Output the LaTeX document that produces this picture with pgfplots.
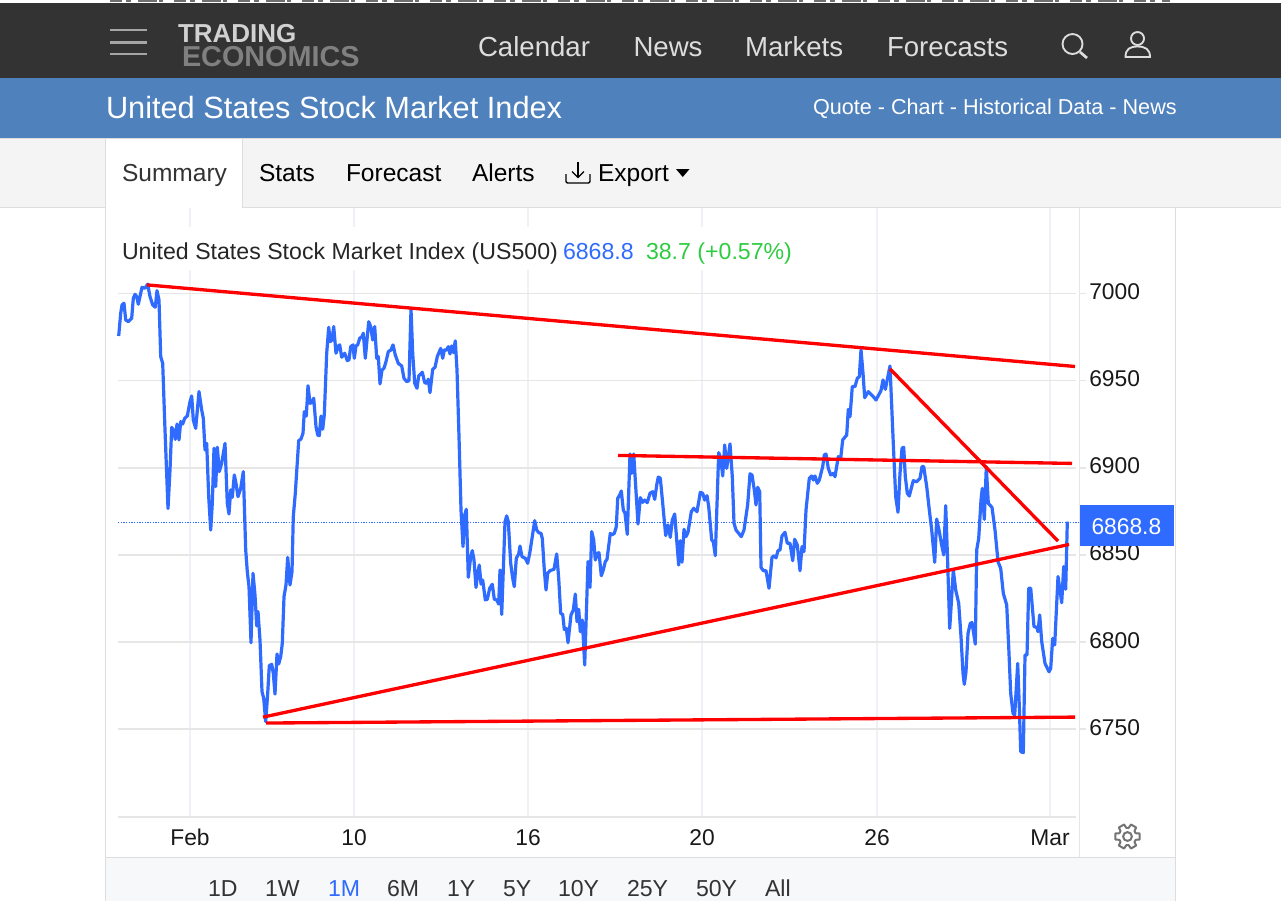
\documentclass[border=0pt]{standalone}
\usepackage{pgfplots}
\pgfplotsset{compat=1.18}
\usepackage{fontspec}
\setmainfont{Liberation Sans}
\definecolor{darkbar}{HTML}{333333}
\definecolor{bluebar}{HTML}{4F81BD}
\definecolor{strip}{HTML}{F4F4F4}
\definecolor{edge}{HTML}{DDDDDD}
\definecolor{lineblue}{HTML}{2F6BFF}
\definecolor{gain}{HTML}{2ECC40}
\definecolor{vgrid}{HTML}{EEF2F7}
\definecolor{hgrid}{HTML}{E6E6E6}
\definecolor{navtext}{HTML}{DDDDDD}
\definecolor{ranges}{HTML}{F7F8FA}
\newcommand{\fs}[1]{\fontsize{#1}{#1}\selectfont}
\tikzset{t/.style={inner sep=0pt,outer sep=0pt,anchor=base west}}
\begin{document}
\begin{tikzpicture}[x=0.75pt,y=-0.75pt]
\path[use as bounding box] (0,0) rectangle (1281,901);
\fill[white] (0,0) rectangle (1281,901);
% top bars
\fill[darkbar] (0,2.5) rectangle (1281,78);
\draw[darkbar!70,line width=0.9pt,dash pattern=on 9pt off 3pt on 4pt off 5pt on 14pt off 2pt on 3pt off 8pt] (110,1) -- (1170,1);
\fill[bluebar] (0,78) rectangle (1281,138);
\fill[strip] (0,138.5) rectangle (1281,207);
\draw[edge,line width=0.8pt] (0,138.5) -- (1281,138.5);
\draw[edge,line width=0.8pt] (0,207.5) -- (1281,207.5);
% panel
\fill[white] (106,208) rectangle (1175,857);
\fill[ranges] (106,858) rectangle (1175,901);
\draw[edge,line width=0.7pt] (106,857.5) -- (1175,857.5);
\draw[edge,line width=0.7pt] (105.5,139) -- (105.5,901);
\draw[edge,line width=0.7pt] (1175.5,208) -- (1175.5,901);
\draw[hgrid,line width=1.3pt] (1079.5,208) -- (1079.5,857);
\foreach \yy in {293.5,380.6,467.8,555,642.1,729.2}{\draw[hgrid,line width=1.1pt] (1080,\yy) -- (1086,\yy);}
% tab
\fill[white] (106,139) rectangle (242,209);
\draw[edge,line width=0.8pt] (105.5,139) -- (105.5,208);
\draw[edge,line width=0.8pt] (242.5,139) -- (242.5,208);
% hamburger
\foreach \yy in {30,42.5,54}{\draw[gray!70,line width=2pt] (110,\yy) -- (147,\yy);}
% logo
\node[t,text=black!18] at (178,42) {\fs{19.5pt}\textbf{TRADING}};
\node[t,text=black!50] at (182,66) {\fs{21.6pt}\textbf{ECONOMICS}};
% nav
\node[t,text=navtext] at (478,56) {\fs{20.7pt}Calendar};
\node[t,text=navtext] at (633.5,56) {\fs{20.7pt}News};
\node[t,text=navtext] at (745,56) {\fs{20.7pt}Markets};
\node[t,text=navtext] at (887,56) {\fs{20.7pt}Forecasts};
% search
\draw[navtext,line width=1.4pt] (1072.5,44) circle (10);
\draw[navtext,line width=2pt] (1080,52) -- (1087,58);
% user
\draw[navtext,line width=1.4pt] (1137.5,38.5) circle (6.5);
\draw[navtext,line width=1.4pt] (1125.5,57) .. controls (1125.5,49) and (1130,46.5) .. (1137.5,46.5) .. controls (1145,46.5) and (1150,49) .. (1150,57) -- cycle;
% blue bar text
\node[t,text=white] at (106,118) {\fs{23.05pt}United States Stock Market Index};
\node[t,text=white] at (813,114) {\fs{16.2pt}Quote - Chart - Historical Data - News};
% tabs
\node[t,text=black!80] at (122,181) {\fs{18.4pt}Summary};
\node[t,text=black] at (259,181) {\fs{18.4pt}Stats};
\node[t,text=black] at (346,181) {\fs{18.4pt}Forecast};
\node[t,text=black] at (472,181) {\fs{18.4pt}Alerts};
\node[t,text=black] at (598,181) {\fs{18.4pt}Export};
\draw[black,line width=1pt,rounded corners=1pt] (566,174) -- (566,183) -- (590,183) -- (590,174);
\draw[black,line width=1pt] (578,162) -- (578,177);
\draw[black,line width=1pt] (572,171.5) -- (578,177.5) -- (584,171.5);
\fill[black] (676,169) -- (689.5,169) -- (682.75,177) -- cycle;
% range buttons
\foreach \xx/\lab in {208/1D,265/1W,387/6M,447/1Y,503/5Y,558/10Y,627/25Y,696/50Y,765/All}{
  \node[t,text=black!80] at (\xx,896) {\fs{17.3pt}\lab};}
\node[t,text=lineblue] at (328,896) {\fs{17.3pt}1M};
\coordinate (orig) at (118,817);
\begin{axis}[
  at={(orig)},anchor=south west,
  scale only axis,
  width=718.5pt,height=456.75pt,
  xmin=118,xmax=1076,
  ymin=6699.7,ymax=7049,
  clip=false,
  axis line style={draw=none},
  xtick={190,354,528,702,877,1050},
  xticklabels={Feb,10,16,20,26,Mar},
  ytick={6750,6800,6850,6900,6950,7000},
  yticklabel pos=right,
  xtick pos=bottom,
  major tick length=0pt,
  grid=major,
  x grid style={vgrid,line width=1.2pt},
  y grid style={hgrid,line width=1.3pt},
  axis on top=false,
  /pgf/number format/.cd,set thousands separator={},assume math mode=true,
  /pgfplots/.cd,
  tick label style={font=\fs{17.1pt},text=black!90},
  xticklabel style={anchor=base,inner sep=0pt,yshift=-21.5pt},
  yticklabel style={anchor=west,inner sep=0pt,xshift=9.75pt,yshift=1.4pt},
]
\addplot[hgrid,line width=1.6pt,forget plot] coordinates {(118,6699.7) (1076,6699.7)};
\addplot[lineblue,line width=0.7pt,dash pattern=on 1pt off 1pt,forget plot] coordinates {(118,6868.8) (1080,6868.8)};
\addplot[lineblue,line width=2.4pt,line join=round,forget plot] coordinates {
(118.7,6975.6)(120.7,6988.6)(122,6993.4)(124,6994.4)(125.7,6984.8)(128.3,6983.8)(131.7,6985.8)(133.3,6997.2)(135,6999.5)(136.7,6998.2)
(138.3,6993.8)(142,7003.5)(145,7003)(147.7,7005.3)(150,6998.2)(152.7,6993.4)(155.3,6992.1)(157,7001.6)(159,6996.3)(160.7,6963.8)
(162.7,6959.9)(165,6921.7)(168,6876.6)(170,6898.7)(171.7,6923.2)(173.3,6921.7)(175.3,6916.3)(177,6925.1)(179,6916)(180.7,6926.5)
(182.7,6925.1)(184.7,6928.4)(187.3,6929.7)(190,6937.9)(191.7,6941.2)(193.3,6927.4)(195.7,6922.6)(199,6943.7)(201.7,6933.2)(203.3,6928.4)
(205,6910.2)(206.7,6914)(208.7,6883.4)(210.7,6864.3)(212.3,6879.6)(214,6911.2)(215.7,6889.2)(217.3,6911.8)(219.3,6897.8)(221.7,6902.6)
(225,6914)(227.3,6879.6)(229,6873.5)(230.7,6887.3)(232.3,6883.1)(234.3,6895.9)(236,6891.1)(238,6883.4)(240.7,6888.2)(243.3,6897.8)
(245.7,6852.9)(247.3,6840.4)(249,6831.8)(251,6799.7)(253,6839.5)(255,6827)(256.7,6809.3)(258,6817.5)(260,6801.2)(262,6771.6)
(263.7,6767.8)(265.7,6754.4)(267.7,6770.6)(269.3,6786.5)(271.7,6787.3)(273.3,6782.1)(275,6770.2)(277,6793.2)(278.7,6787.5)(280.7,6791.7)
(282.3,6799.3)(284,6826.1)(286,6832.8)(287.7,6848.6)(290,6832.8)(292,6840.4)(293.3,6872)(295.3,6885.4)(298.7,6915.6)(301,6916.5)
(303,6919.8)(304.3,6932.2)(306.3,6929.7)(308,6947.1)(310,6937)(312,6937.4)(313.7,6939.9)(316,6923.6)(317.7,6918.8)(319.3,6918.4)
(321,6929.7)(322.7,6922.1)(324.3,6930.3)(326.7,6965.7)(328.7,6980.6)(330.3,6972.4)(332,6973.3)(333.7,6981)(336,6965.7)(338.3,6969.9)
(339.7,6970.5)(341.7,6963.4)(344.7,6965.7)(347.3,6961.5)(349,6961.9)(350.7,6969.5)(353,6970.5)(354.3,6962.8)(356,6969.9)(357.7,6970.5)
(359.7,6974.3)(362,6975.2)(363.3,6977.2)(365.3,6962.8)(368.7,6983.8)(370.7,6981)(372.7,6973.3)(374.7,6981)(376.7,6962.8)(378.3,6963.8)
(380,6948.1)(382,6956.1)(384,6957.1)(386,6960.9)(388.3,6966.6)(391,6967.6)(393,6970.5)(395.3,6964.7)(398.3,6959.9)(401.7,6958.4)
(404,6951.3)(406.7,6949.4)(409,6950)(411,6990.9)(412.7,6965.7)(414.7,6948.5)(417,6945.6)(418.7,6952.7)(422.3,6954.8)(424.7,6948.8)
(426.7,6948.5)(428.3,6950.8)(430,6943.1)(432.7,6956.5)(435,6957.6)(437.3,6963.8)(440.7,6968.5)(442.7,6962.8)(444.3,6967.6)(446.7,6967.6)
(448.3,6969.5)(450,6965.3)(451.7,6969.9)(453.3,6966.1)(455.3,6972.8)(457,6956.1)(459,6917.9)(461,6875.8)(463,6854.8)(464.7,6872.9)
(466.3,6876.2)(468.3,6837.2)(470.7,6849)(472.3,6852.5)(474,6847.1)(476,6831.4)(478,6840.4)(479.3,6844.2)(481,6833.3)(482.7,6835.6)
(485.3,6824.2)(487.3,6824.6)(489.7,6830.9)(492.3,6833.2)(494.3,6824.6)(496.7,6824.2)(498.7,6821.9)(500,6841.4)(501.7,6815.9)(503.3,6841.4)
(505,6869.1)(506.7,6872.4)(508.3,6869.1)(510.7,6845.2)(512.7,6836.6)(514.3,6831.8)(516.3,6848.1)(518.7,6850.6)(520,6855.1)(522,6849)
(525.3,6848.1)(527.7,6845.2)(530,6851.9)(534.7,6869.7)(536.7,6864.3)(538.7,6862.8)(541,6862.4)(542.3,6859.5)(544.3,6841.4)(546,6829.9)
(547.7,6839.5)(550,6841)(554,6841.8)(556.7,6850.6)(558.7,6836.6)(560.7,6816.5)(562.7,6815.9)(564.3,6807.3)(566.3,6807.9)(568,6799.7)
(571,6815.6)(573.3,6818.4)(575.3,6827.6)(577,6811.7)(578.7,6818.8)(580.3,6806)(582.3,6812.7)(584.7,6786.9)(588,6846.2)(590,6831.4)
(591.7,6863.4)(593.7,6858.6)(595.3,6847.1)(597.3,6850.9)(599,6851.3)(601.3,6838.1)(603.3,6841.4)(605.3,6846.2)(607,6847.5)(610.3,6862.4)
(612,6861.5)(614.3,6862.4)(616.3,6866.2)(617.7,6882.5)(619.7,6884.4)(621.3,6886.7)(623.3,6875.8)(625,6873.9)(627.3,6861.8)(630,6907.9)
(631.7,6896.8)(633.7,6907.9)(635.7,6889.2)(638,6867.8)(640.3,6882.9)(642.7,6880.2)(644.7,6881.5)(647.3,6880)(650,6885.4)(652.7,6886.3)
(654.7,6881.9)(656.7,6890.1)(658.3,6894.7)(660.3,6894)(662.7,6879.6)(665.7,6861.1)(668,6867.2)(670.3,6860.1)(672.3,6870.1)(674.7,6873.5)
(676.7,6858.6)(678.7,6844.2)(680.3,6858.2)(682,6845.8)(684,6864.7)(686,6860.5)(688,6863)(691.3,6874.8)(693.7,6876.8)(697,6874.8)
(700.3,6885.9)(702.7,6885.4)(704.7,6881.5)(707,6884)(708.7,6877.7)(711.7,6858.6)(713.3,6857.6)(715.3,6849.6)(718.7,6908.7)(720.7,6905.4)
(722.7,6895.3)(724.7,6913.1)(726.7,6899.7)(730,6913.7)(732.3,6894.9)(734,6868.2)(736,6864.3)(738.7,6862.4)(741.3,6860.5)(744,6864.3)
(747.7,6879)(750,6896.5)(752,6895.9)(754.3,6887.3)(756,6878.7)(757.7,6888.8)(759.7,6886.3)(761,6842.9)(763.3,6841)(766,6841)
(769,6830.9)(772,6848.6)(774,6849.6)(776,6848.3)(778,6852.5)(780,6852.9)(782,6860.9)(785,6863)(787.3,6856.7)(790,6856.7)
(792.7,6846.7)(794.7,6859)(797.3,6855.7)(800,6841)(802,6854.8)(804,6851.9)(806,6875.8)(809.3,6894)(811.7,6895.3)(813.3,6893)
(815,6895.3)(817.3,6891.1)(819.3,6893)(822.7,6900.7)(824.3,6907.4)(826,6907.9)(828.3,6899.7)(830.7,6895.9)(833.3,6896.8)(835,6894.9)
(838.3,6906.4)(840.7,6905.4)(842.7,6916)(846.7,6918.8)(848.3,6933.5)(850,6929.3)(852.3,6946.6)(855,6946.6)(857.3,6951.3)(859.3,6952.3)
(861,6967.6)(863,6954.2)(864.7,6940.2)(868.3,6943.7)(873.3,6940.8)(876,6938.9)(881,6944.3)(883,6950.4)(885.3,6945)(890,6958.4)
(892,6931.3)(894,6904.5)(895.7,6883.4)(898,6874.5)(900,6896.8)(902,6911.2)(903.7,6911.8)(905.3,6894.9)(907.3,6885.4)(909.3,6883.8)
(911.7,6889.2)(913.3,6892.6)(916.7,6892)(920,6894)(922,6900.7)(923.7,6900.7)(926.7,6889.2)(929.3,6875.8)(931.7,6864.3)(934.7,6845.8)
(936.7,6870.6)(939.3,6863.4)(941.3,6856.7)(943.7,6850)(945.7,6878.3)(947.7,6845.2)(949.7,6807.9)(951.3,6822.3)(953.3,6841.4)(955.7,6829.9)
(958.7,6822.3)(961,6803.1)(963,6782.1)(964.3,6775.8)(966,6783)(968,6805)(970.3,6810.8)(972,6811.2)(975.3,6798.9)(976.7,6852.9)
(978.7,6859.5)(981,6881.5)(982.3,6888.2)(984.3,6870.4)(986.3,6900.7)(988.3,6879.6)(992,6877.3)(995,6864.3)(998,6846.2)(1000.7,6842.3)
(1003.3,6828)(1006.7,6821.3)(1008.7,6797.4)(1010.7,6770.6)(1013,6759.2)(1014.7,6758.2)(1017.7,6787.8)(1019.3,6763)(1020.7,6737.2)(1023.3,6736.6)
(1025,6792.6)(1027,6792.6)(1028.7,6830.9)(1030.7,6830.9)(1034,6808.9)(1036.7,6808.5)(1038,6806)(1039.7,6815.6)(1041.7,6800.3)(1045,6787.8)
(1049,6783)(1050.7,6785)(1052.7,6802.2)(1054.7,6798.4)(1058,6837.6)(1061.7,6822.6)(1063.7,6843.3)(1065.7,6830.3)(1067.3,6869.1)
};
\addplot[red,line width=2.5pt,forget plot] coordinates {(147,7004.9)(1075,6958.1)};
\addplot[red,line width=2.5pt,forget plot] coordinates {(618,6907.1)(1072,6902.5)};
\addplot[red,line width=2.5pt,forget plot] coordinates {(890,6956.7)(1058,6858)};
\addplot[red,line width=2.5pt,forget plot] coordinates {(263,6757)(1069,6856)};
\addplot[red,line width=2.5pt,forget plot] coordinates {(266,6753.6)(1075,6757)};
\end{axis}
% series title over its white band
\fill[white] (118,227) rectangle (800,270);
\node[t,text=black!85] at (122,259) {\fs{17.35pt}United States Stock Market Index (US500)};
\node[t,text=lineblue] at (563,259) {\fs{17.35pt}6868.8};
\node[t,text=gain] at (646,259) {\fs{17.35pt}38.7 (+0.57\%)};
% price label
\fill[lineblue] (1080,505) rectangle (1174,546);
\node[t,text=white] at (1091.5,534) {\fs{17.1pt}6868.8};
% gear
\begin{scope}[shift={(1127.5,836.5)}]
\draw[black!55,line width=1.5pt,line join=round] (-14:12.5) \foreach \a in {0,60,120,180,240,300}{ -- (\a-14:12.5) -- (\a+14:12.5) -- (\a+22:8.8) -- (\a+38:8.8)} -- cycle;
\draw[black!55,line width=1.5pt] (0,0) circle (4.4);
\end{scope}
\end{tikzpicture}
\end{document}
